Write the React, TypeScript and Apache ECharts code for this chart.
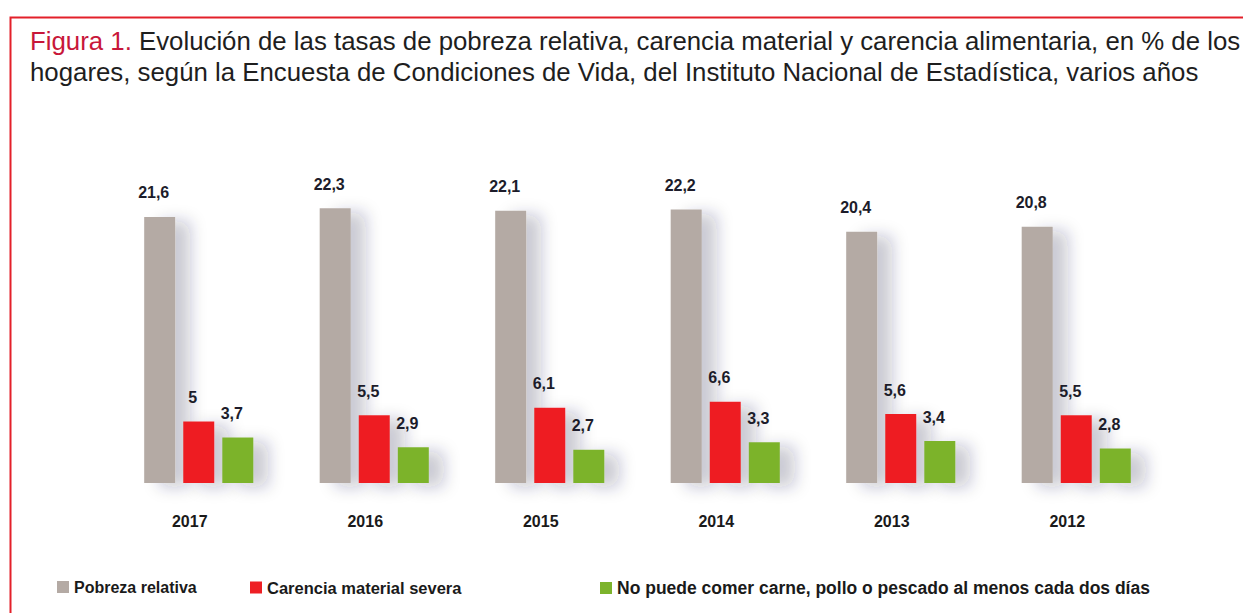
import React, { useEffect, useRef } from "react";
import * as echarts from "echarts";

const years = ["2017", "2016", "2015", "2014", "2013", "2012"];
const pobrezaRelativa = [21.6, 22.3, 22.1, 22.2, 20.4, 20.8];
const carenciaMaterial = [5, 5.5, 6.1, 6.6, 5.6, 5.5];
const noPuedeComer = [3.7, 2.9, 2.7, 3.3, 3.4, 2.8];

const seriesNames = [
  "Pobreza relativa",
  "Carencia material severa",
  "No puede comer carne, pollo o pescado al menos cada dos días",
];
const colors = ["#b4aaa4", "#ee1f24", "#7cb32c"];
const titleRed = "Figura 1.";
const titleLine1 =
  " Evolución de las tasas de pobreza relativa, carencia material y carencia alimentaria, en % de los";
const titleLine2 =
  "hogares, según la Encuesta de Condiciones de Vida, del Instituto Nacional de Estadística, varios años";

const FONT = "'Liberation Sans', Arial, Helvetica, sans-serif";

export default function App() {
  const ref = useRef<HTMLDivElement>(null);
  useEffect(() => {
    if (!ref.current) return;
    const chart = echarts.init(ref.current, null, { renderer: "svg" });
    const fmt = (p: any) => String(p.value).replace(".", ",");
    const mkSeries = (name: string, data: number[], color: string) => ({
      type: "bar",
      name,
      data,
      barWidth: 31,
      barGap: "26%",
      itemStyle: {
        color,
        shadowColor: "rgba(40,40,70,0.24)",
        shadowBlur: 16,
        shadowOffsetX: 15,
        shadowOffsetY: 4,
      },
      label: {
        show: true,
        position: "top",
        distance: 16,
        offset: [-6, 0],
        formatter: fmt,
        fontFamily: FONT,
        fontWeight: "bold",
        fontSize: 16,
        color: "#1c1c2a",
      },
    });
    const legendBase = {
      top: 574,
      icon: "rect",
      itemWidth: 12,
      itemHeight: 12,
      textStyle: {
        fontFamily: FONT,
        fontWeight: "bold",
        fontSize: 16,
        color: "#1a1a1a",
      },
    };
    chart.setOption({
      animation: false,
      backgroundColor: "#ffffff",
      color: colors,
      legend: [
        { ...legendBase, left: 52, data: [seriesNames[0]] },
        {
          ...legendBase,
          left: 245,
          data: [seriesNames[1]],
          textStyle: { ...legendBase.textStyle, fontSize: 16.5 },
        },
        {
          ...legendBase,
          left: 595,
          data: [seriesNames[2]],
          textStyle: { ...legendBase.textStyle, fontSize: 17.5 },
        },
      ],
      grid: { left: 111, right: 79, top: 175, bottom: 130 },
      xAxis: {
        type: "category",
        data: years,
        axisLine: { show: false },
        axisTick: { show: false },
        axisLabel: {
          fontFamily: FONT,
          fontWeight: "bold",
          fontSize: 16,
          color: "#1a1a1a",
          margin: 30,
          padding: [0, 18, 0, 0],
        },
      },
      yAxis: {
        type: "value",
        min: 0,
        max: 25,
        show: false,
        splitLine: { show: false },
      },
      series: [
        mkSeries(seriesNames[0], pobrezaRelativa, colors[0]),
        mkSeries(seriesNames[1], carenciaMaterial, colors[1]),
        mkSeries(seriesNames[2], noPuedeComer, colors[2]),
      ],
      graphic: [
        {
          type: "rect",
          left: 8,
          top: 15,
          shape: { x: 0, y: 0, width: 1300, height: 700 },
          style: { fill: "none", stroke: "#e3202a", lineWidth: 2 },
          silent: true,
        },
        {
          type: "text",
          x: 30,
          y: 28,
          style: {
            text: "{r|" + titleRed + "}{d|" + titleLine1 + "}",
            rich: {
              r: { fill: "#c8173a", fontSize: 25.8, fontFamily: FONT },
              d: { fill: "#1e1e1e", fontSize: 25.8, fontFamily: FONT },
            },
            fontSize: 25.8,
            fontFamily: FONT,
          },
        },
        {
          type: "text",
          x: 30,
          y: 59,
          style: {
            text: titleLine2,
            fill: "#1e1e1e",
            fontSize: 25.8,
            fontFamily: FONT,
          },
        },
      ],
    });
    return () => chart.dispose();
  }, []);
  return (
    <div
      ref={ref}
      style={{ position: "fixed", left: 0, top: 0, width: 1243, height: 613 }}
    />
  );
}
